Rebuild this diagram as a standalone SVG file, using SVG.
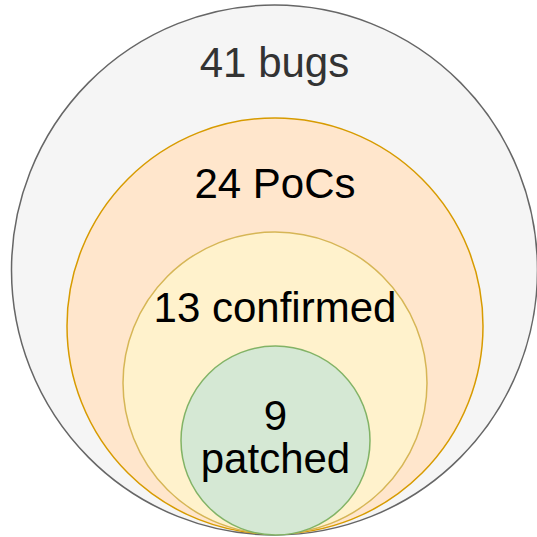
<svg xmlns="http://www.w3.org/2000/svg" width="537" height="537" viewBox="0 0 537 537">
  <style>
    .lbl { font-family: "Liberation Sans", Arial, sans-serif; font-size: 42px; text-anchor: middle; fill: #000000; }
    .outer { fill: #f5f5f5; stroke: #666666; stroke-width: 1.5; }
    .pocs { fill: #ffe6cc; stroke: #d79b00; stroke-width: 1.5; }
    .conf { fill: #fff2cc; stroke: #d6b656; stroke-width: 1.5; }
    .patch { fill: #d5e8d4; stroke: #82b366; stroke-width: 1.5; }
  </style>
  <rect width="537" height="537" fill="#ffffff"/>
  <g id="bugs">
    <ellipse class="outer" cx="274.5" cy="270" rx="263" ry="265"/>
    <text class="lbl" x="274.5" y="77" style="fill:#333333">41 bugs</text>
  </g>
  <g id="pocs">
    <ellipse class="pocs" cx="275" cy="326" rx="208" ry="208"/>
    <text class="lbl" x="275" y="198">24 PoCs</text>
  </g>
  <g id="confirmed">
    <ellipse class="conf" cx="275" cy="383" rx="152" ry="151"/>
    <text class="lbl" x="275" y="322">13 confirmed</text>
  </g>
  <g id="patched">
    <ellipse class="patch" cx="275.5" cy="440.5" rx="94.5" ry="94.5"/>
    <text class="lbl" x="275.5" y="430">9</text>
    <text class="lbl" x="275.5" y="473">patched</text>
  </g>
  <g id="connectors"/>
</svg>
